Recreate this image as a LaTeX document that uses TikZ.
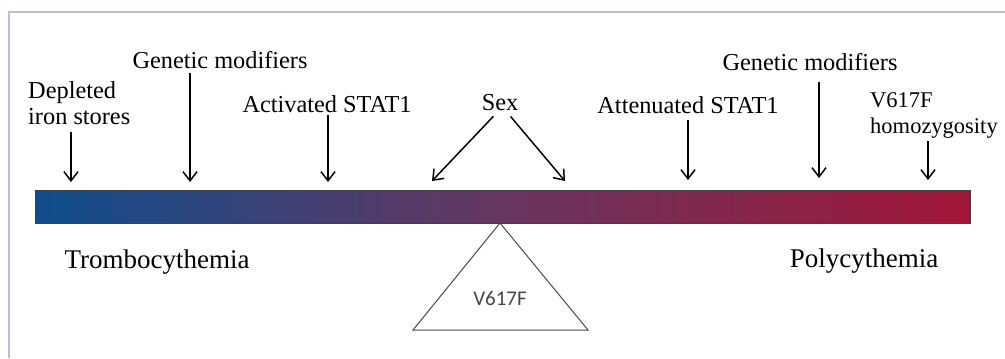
\documentclass[tikz,border=0pt]{standalone}
\usepackage{fontspec}
\setmainfont{Liberation Serif}
\newfontfamily\calibrifont{Carlito}
\usetikzlibrary{arrows.meta,calc,positioning}
\definecolor{frameblue}{RGB}{180,190,212}
\definecolor{barleft}{RGB}{14,78,142}
\definecolor{barmid}{RGB}{104,54,96}
\definecolor{barright}{RGB}{162,22,56}
\definecolor{tridark}{RGB}{70,70,70}
\begin{document}
\begin{tikzpicture}
[x=0.025cm,y=-0.025cm,
label/.style={
	font=\fontsize{17.3}{18.5}\selectfont,
	inner sep=2.1pt,
	align=left,
    },
bigtext/.style={
	font=\fontsize{19.2}{22}\selectfont,
	inner sep=0pt,
    },
pusharrow/.style={
	line width=1.05pt,
	-{Straight Barb[length=6.5pt,width=10pt]},
    },]
\useasboundingbox (0,0) rectangle (1005,358);
% frame
\draw[frameblue, line width=1.6pt] (9,358) -- (9,12) -- (1005,12);

% draw the bar and the pivot
\shade[left color=barleft, right color=barright, middle color=barmid]
  (35,190) rectangle (970,223);
\draw[black!75, line width=0.6pt] (35,190) rectangle (970,223);
\draw[tridark, line width=0.7pt] (500,223) -- (413,330) -- (588,330) -- cycle;
\node[font=\calibrifont\fontsize{14.9}{16}\selectfont, text=tridark, inner sep=0pt] (pivot) at (500,298) {V617F};

% labels above the bar
\node[label, anchor=north west] (iron) at (25,78) {Depleted\\iron stores};
\node[label, anchor=base] (genL) at (220,68) {Genetic modifiers};
\node[label, anchor=base] (stat1a) at (327,112) {Activated STAT1};
\node[label, anchor=base] (sex) at (500,110) {Sex};
\node[label, anchor=base] (stat1b) at (688,113) {Attenuated STAT1};
\node[label, anchor=base] (genR) at (810,70) {Genetic modifiers};
\node[label, font=\fontsize{16}{18.5}\selectfont, anchor=north west] (homo) at (867,89) {V617F\\homozygosity};

% labels below the bar
\node[bigtext, anchor=base] (thrombo) at (157,268) {Trombocythemia};
\node[bigtext, anchor=base] (poly) at (864,267) {Polycythemia};

% arrow ends on the bar
\coordinate (t1) at (71,182);
\coordinate (t2) at (190,182);
\coordinate (t3) at (328,182);
\coordinate (t4) at (432,181);
\coordinate (t5) at (565,181);
\coordinate (t6) at (688,180);
\coordinate (t7) at (819,178);
\coordinate (t8) at (928,180);

%draw arrows
\draw[pusharrow, shorten <=2.8pt] (iron.south -| t1) -- (t1);
\draw[pusharrow, shorten <=1.4pt] (genL.south -| t2) -- (t2);
\draw[pusharrow] (stat1a.south -| t3) -- (t3);
\draw[pusharrow, shorten <=2.8pt] ([xshift=-2.8pt]sex.south) -- (t4);
\draw[pusharrow, shorten <=2.8pt] ([xshift=5.7pt]sex.south) -- (t5);
\draw[pusharrow, shorten <=2.8pt] (stat1b.south -| t6) -- (t6);
\draw[pusharrow, shorten <=6.4pt] (genR.south -| t7) -- (t7);
\draw[pusharrow] (homo.south -| t8) -- (t8);
\end{tikzpicture}
\end{document}
